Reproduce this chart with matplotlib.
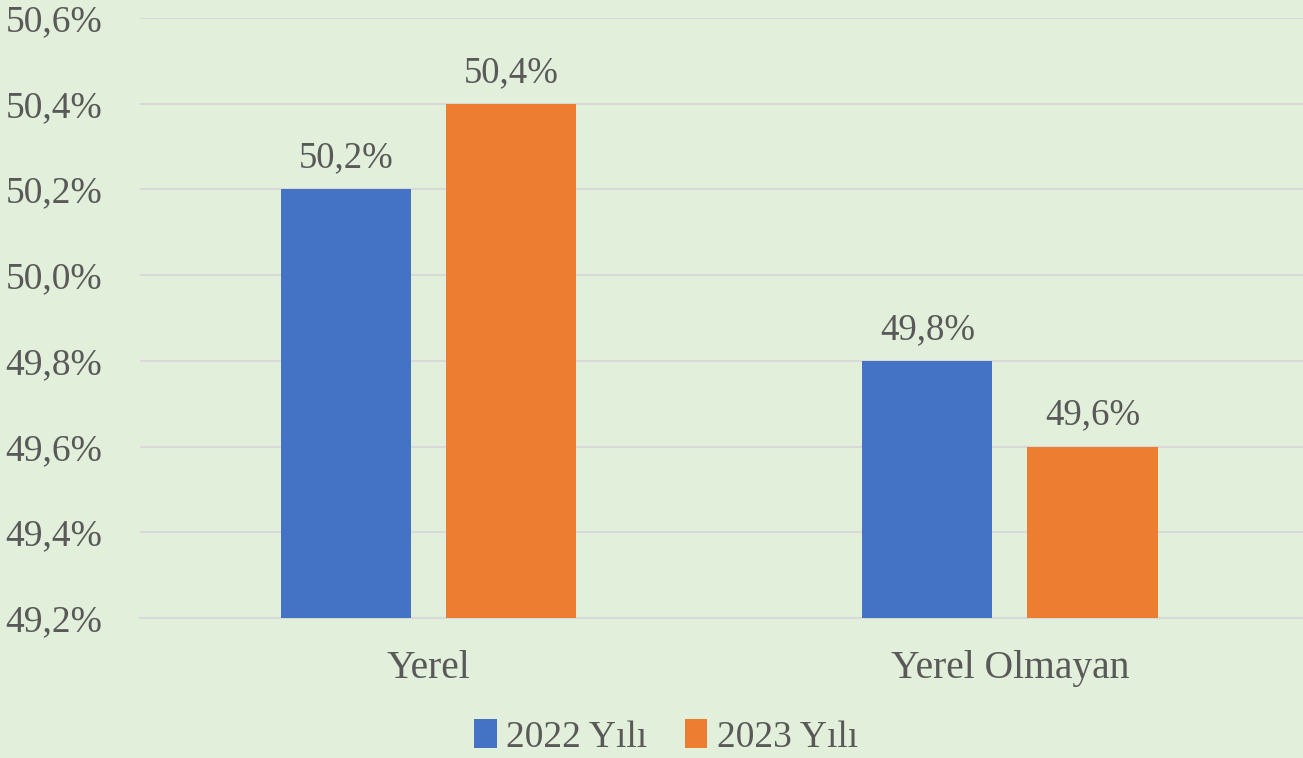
import matplotlib.pyplot as plt
import numpy as np
from matplotlib.ticker import FuncFormatter, MultipleLocator

# data
categories = ['Yerel', 'Yerel Olmayan']
series_names = ['2022 Yılı', '2023 Yılı']
values_2022 = [50.2, 49.8]
values_2023 = [50.4, 49.6]

BG = '#E2EFDA'
TEXT = '#595959'
GRID = '#D9D9D9'
colors = ['#4472C4', '#ED7D31']

plt.rcParams['font.family'] = ['Liberation Serif', 'DejaVu Serif']

fig = plt.figure(figsize=(13.03, 7.58), dpi=100, facecolor=BG)
ax = fig.add_axes([140 / 1303, 1 - 618 / 758, 1163 / 1303, 600 / 758])
ax.set_facecolor(BG)

x = np.arange(len(categories))
width = 0.224
offset = 0.142

bars1 = ax.bar(x - offset, values_2022, width, color=colors[0], label=series_names[0], zorder=3)
bars2 = ax.bar(x + offset, values_2023, width, color=colors[1], label=series_names[1], zorder=3)

def pct(v, pos=None):
    return f'{v:.1f}%'.replace('.', ',')

for bars in (bars1, bars2):
    for b in bars:
        ax.annotate(pct(b.get_height()), (b.get_x() + b.get_width() / 2, b.get_height()),
                    xytext=(0, 10), textcoords='offset points', ha='center', va='bottom',
                    fontsize=26.5, color=TEXT)

ax.set_xlim(-0.496, 1.504)
ax.set_ylim(49.2, 50.6)
ax.yaxis.set_major_locator(MultipleLocator(0.2))
ax.yaxis.set_major_formatter(FuncFormatter(pct))
ax.set_xticks(x)
ax.set_xticklabels(categories, fontsize=28.5)
ax.grid(axis='y', color=GRID, linewidth=1.5, zorder=0)
ax.tick_params(axis='both', length=0, labelcolor=TEXT)
ax.tick_params(axis='y', labelsize=27, pad=97)
ax.tick_params(axis='x', pad=23)
for lbl in ax.get_yticklabels():
    lbl.set_horizontalalignment('left')
for side in ('top', 'right', 'left'):
    ax.spines[side].set_visible(False)
ax.spines['bottom'].set_color(GRID)
ax.spines['bottom'].set_linewidth(1.5)

fig.legend(loc='center', bbox_to_anchor=(666 / 1303, 1 - 737 / 758), ncol=2, frameon=False,
           fontsize=27, labelcolor=TEXT, handlelength=0.6, handleheight=0.8,
           handletextpad=0.25, columnspacing=1.0)

fig.savefig('out.png', dpi=100, facecolor=BG)
